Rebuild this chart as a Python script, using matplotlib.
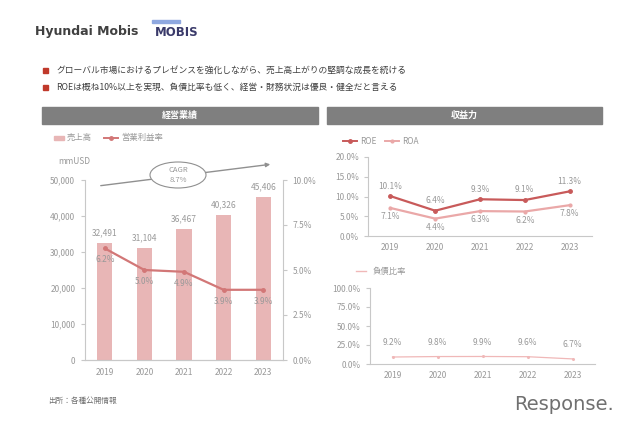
import matplotlib
matplotlib.use("Agg")
import matplotlib.pyplot as plt
from matplotlib.patches import Rectangle, Ellipse, FancyArrowPatch
import numpy as np

plt.rcParams['font.family'] = ['Noto Sans CJK JP', 'DejaVu Sans']

years = ["2019", "2020", "2021", "2022", "2023"]
sales = [32491, 31104, 36467, 40326, 45406]
op_margin = [6.2, 5.0, 4.9, 3.9, 3.9]
roe = [10.1, 6.4, 9.3, 9.1, 11.3]
roa = [7.1, 4.4, 6.3, 6.2, 7.8]
debt_ratio = [9.2, 9.8, 9.9, 9.6, 6.7]
cagr_label = "CAGR\n8.7%"

W, H = 640, 426
fig = plt.figure(figsize=(W / 100, H / 100), dpi=100)
fig.patch.set_facecolor("white")

def rect(x0, y0, x1, y1):
    return [x0 / W, 1 - y1 / H, (x1 - x0) / W, (y1 - y0) / H]

def fx(x):
    return x / W

def fy(y):
    return 1 - y / H

GRAY_AX = "#c8c8c8"
TXT = "#999999"
BAR = "#e8b6b6"
LINE1 = "#d27777"
ROE_C = "#c85a5a"
ROA_C = "#eaa8a8"

# Title
fig.text(fx(35), fy(31), "Hyundai Mobis", fontsize=9, fontweight="bold", color="#404040", va="center", family="DejaVu Sans")
fig.text(fx(155), fy(32), "MOBIS", fontsize=8.5, fontweight="bold", color="#3a3a6a", va="center", family="DejaVu Sans")
fig.patches.append(Rectangle((fx(152), fy(23)), 28 / W, 2.5 / H, transform=fig.transFigure, color="#8fa8e0"))

# Bullets
bullets = [
    "グローバル市場におけるプレゼンスを強化しながら、売上高上がりの堅調な成長を続ける",
    "ROEは概ね10%以上を実現、負債比率も低く、経営・財務状況は優良・健全だと言える",
]
for i, b in enumerate(bullets):
    y = 70 + i * 17
    fig.patches.append(Rectangle((fx(43), fy(y + 2.5)), 5 / W, 5 / H, transform=fig.transFigure, color="#c0392b"))
    fig.text(fx(56), fy(y), b, fontsize=6.3, color="#404040", va="center")

# Header bars
for (x0, x1, label) in [(42, 318, "経営業績"), (327, 602, "収益力")]:
    fig.patches.append(Rectangle((fx(x0), fy(124)), (x1 - x0) / W, 17 / H, transform=fig.transFigure, color="#7f7f7f"))
    fig.text(fx((x0 + x1) / 2), fy(115.5), label, fontsize=6.5, color="white", ha="center", va="center", fontweight="bold")

def style_ax(ax):
    for s in ax.spines.values():
        s.set_color(GRAY_AX)
    ax.tick_params(colors=GRAY_AX, labelcolor=TXT, labelsize=6, length=3, width=0.8)

# Left chart
x = np.arange(len(years))
axL = fig.add_axes(rect(85, 180, 283, 360))
axL.bar(x, sales, width=0.38, color=BAR, zorder=2)
axL.set_ylim(0, 50000)
axL.set_xlim(-0.5, 4.5)
axL.set_yticks(np.arange(0, 50001, 10000))
axL.set_yticklabels([f"{v:,}" for v in range(0, 50001, 10000)])
axL.set_xticks(x)
axL.set_xticklabels(years)
style_ax(axL)
axL.spines["top"].set_visible(False)
axL.spines["right"].set_visible(False)
axL.tick_params(axis="x", length=0, pad=6)
axL.tick_params(axis="y", pad=4)
for xi, v in zip(x, sales):
    axL.annotate(f"{v:,}", (xi, v), xytext=(0, 4), textcoords="offset points", ha="center", va="bottom", fontsize=6, color=TXT)

axR = axL.twinx()
axR.plot(x, op_margin, color=LINE1, lw=1.6, marker="o", ms=2.5, zorder=3)
axR.set_ylim(0, 10)
axR.set_yticks([0, 2.5, 5, 7.5, 10])
axR.set_yticklabels(["0.0%", "2.5%", "5.0%", "7.5%", "10.0%"])
style_ax(axR)
axR.spines["top"].set_visible(False)
axR.spines["left"].set_visible(False)
axR.tick_params(axis="y", pad=4)
for xi, v in zip(x, op_margin):
    axR.annotate(f"{v:.1f}%", (xi, v), xytext=(0, -5), textcoords="offset points", ha="center", va="top", fontsize=6, color=TXT)

fig.text(fx(58), fy(162), "mmUSD", fontsize=6, color=TXT, va="center")

# CAGR arrow + ellipse
fig.patches.append(FancyArrowPatch((fx(98), fy(186)), (fx(273), fy(164)), transform=fig.transFigure,
                                   arrowstyle="-|>", mutation_scale=6, color="#909090", lw=1))
fig.patches.append(Ellipse((fx(178), fy(175)), 56 / W, 26 / H, transform=fig.transFigure,
                           facecolor="white", edgecolor="#909090", lw=0.8))
fig.text(fx(178), fy(175), cagr_label, fontsize=5.5, color=TXT, ha="center", va="center", linespacing=1.2)

# Left legend
fig.patches.append(Rectangle((fx(54), fy(139.5)), 10 / W, 4 / H, transform=fig.transFigure, color=BAR))
fig.text(fx(67), fy(137.5), "売上高", fontsize=6, color=TXT, va="center")
fig.lines.append(plt.Line2D([fx(104), fx(118)], [fy(137.5), fy(137.5)], transform=fig.transFigure, color=LINE1, lw=1.4))
fig.lines.append(plt.Line2D([fx(111)], [fy(137.5)], transform=fig.transFigure, color=LINE1, marker="o", ms=2.5))
fig.text(fx(121), fy(137.5), "営業利益率", fontsize=6, color=TXT, va="center")

fig.text(fx(48), fy(401), "出所：各種公開情報", fontsize=5.5, color="#707070", va="center")

# Right top chart
axT = fig.add_axes(rect(368, 157, 592, 236))
axT.plot(x, roe, color=ROE_C, lw=1.6, marker="o", ms=2.5)
axT.plot(x, roa, color=ROA_C, lw=1.6, marker="o", ms=2)
axT.set_ylim(0, 20)
axT.set_xlim(-0.5, 4.5)
axT.set_yticks([0, 5, 10, 15, 20])
axT.set_yticklabels(["0.0%", "5.0%", "10.0%", "15.0%", "20.0%"])
axT.set_xticks(x)
axT.set_xticklabels(years)
style_ax(axT)
axT.spines["top"].set_visible(False)
axT.spines["right"].set_visible(False)
axT.tick_params(axis="x", length=0, pad=5)
for xi, v in zip(x, roe):
    axT.annotate(f"{v:.1f}%", (xi, v), xytext=(0, 4), textcoords="offset points", ha="center", va="bottom", fontsize=6, color=TXT)
for xi, v in zip(x, roa):
    axT.annotate(f"{v:.1f}%", (xi, v), xytext=(0, -3), textcoords="offset points", ha="center", va="top", fontsize=6, color=TXT)

fig.lines.append(plt.Line2D([fx(343), fx(357)], [fy(141), fy(141)], transform=fig.transFigure, color=ROE_C, lw=1.4))
fig.lines.append(plt.Line2D([fx(350)], [fy(141)], transform=fig.transFigure, color=ROE_C, marker="o", ms=2.5))
fig.text(fx(360), fy(141), "ROE", fontsize=6, color=TXT, va="center")
fig.lines.append(plt.Line2D([fx(385), fx(399)], [fy(141), fy(141)], transform=fig.transFigure, color=ROA_C, lw=1.4))
fig.lines.append(plt.Line2D([fx(392)], [fy(141)], transform=fig.transFigure, color=ROA_C, marker="o", ms=2))
fig.text(fx(402), fy(141), "ROA", fontsize=6, color=TXT, va="center")

# Right bottom chart
axB = fig.add_axes(rect(370, 288, 595, 364))
axB.plot(x, debt_ratio, color="#f0b8b8", lw=0.9, marker="o", ms=1.2)
axB.set_ylim(0, 100)
axB.set_xlim(-0.5, 4.5)
axB.set_yticks([0, 25, 50, 75, 100])
axB.set_yticklabels(["0.0%", "25.0%", "50.0%", "75.0%", "100.0%"])
axB.set_xticks(x)
axB.set_xticklabels(years)
style_ax(axB)
axB.spines["top"].set_visible(False)
axB.spines["right"].set_visible(False)
axB.tick_params(axis="x", length=0, pad=5)
for xi, v in zip(x, debt_ratio):
    axB.annotate(f"{v:.1f}%", (xi, v), xytext=(0, 7), textcoords="offset points", ha="center", va="bottom", fontsize=6, color=TXT)

fig.lines.append(plt.Line2D([fx(356), fx(366)], [fy(271), fy(271)], transform=fig.transFigure, color="#f0b8b8", lw=1))
fig.text(fx(373), fy(271), "負債比率", fontsize=6, color=TXT, va="center")

# Watermark
fig.text(fx(514), fy(405), "Response.", fontsize=14, color="#707070", va="center", family="DejaVu Sans")

fig.savefig("out.png", dpi=100, facecolor="white")
